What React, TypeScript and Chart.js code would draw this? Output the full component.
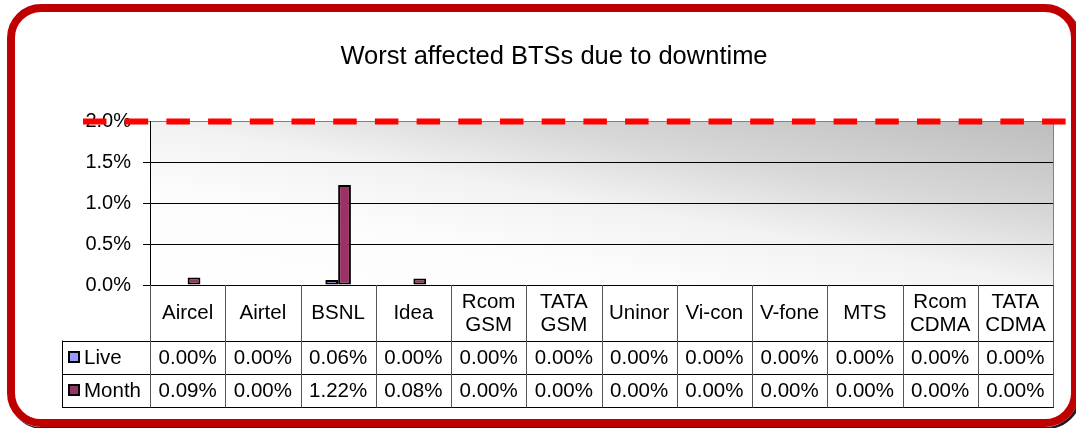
import React, { useEffect, useRef } from 'react';
import { Chart, registerables } from 'chart.js';

Chart.register(...registerables);

// ---- data ----
const TITLE = 'Worst affected BTSs due to downtime';
const categories: string[][] = [
  ['Aircel'], ['Airtel'], ['BSNL'], ['Idea'], ['Rcom', 'GSM'], ['TATA', 'GSM'],
  ['Uninor'], ['Vi-con'], ['V-fone'], ['MTS'], ['Rcom', 'CDMA'], ['TATA', 'CDMA'],
];
const seriesNames = ['Live', 'Month'];
const liveValues = [0, 0, 0.06, 0, 0, 0, 0, 0, 0, 0, 0, 0];
const monthValues = [0.09, 0, 1.22, 0.08, 0, 0, 0, 0, 0, 0, 0, 0];
const yMin = 0;
const yMax = 2.0;
const yStep = 0.5;
const thresholdValue = 2.0;

const seriesColors = ['#9999FF', '#993366'];
const FONT = "'Liberation Sans', Arial, sans-serif";

const W = 1076;
const H = 428;

export default function App() {
  const ref = useRef<HTMLCanvasElement | null>(null);

  useEffect(() => {
    if (!ref.current) return;
    const seriesValues = [liveValues, monthValues];

    const decorPlugin = {
      id: 'decor',
      beforeDraw(chart: any) {
        const ctx = chart.ctx as CanvasRenderingContext2D;
        const { left, right, top, bottom } = chart.chartArea;
        ctx.save();
        ctx.fillStyle = '#ffffff';
        ctx.fillRect(0, 0, W, H);
        ctx.restore();

        // frame shadow, only outside the frame
        ctx.save();
        ctx.beginPath();
        ctx.rect(0, 0, W, H);
        (ctx as any).roundRect(7, 4, 1072, 423, 34);
        ctx.clip('evenodd');
        ctx.strokeStyle = 'rgba(20,0,0,0.9)';
        ctx.lineWidth = 8;
        ctx.beginPath();
        (ctx as any).roundRect(13, 10, 1064, 415, 30);
        ctx.stroke();
        ctx.restore();

        // frame
        ctx.save();
        ctx.strokeStyle = '#C00000';
        ctx.lineWidth = 8;
        ctx.beginPath();
        (ctx as any).roundRect(11, 8, 1064, 415, 30);
        ctx.stroke();
        ctx.restore();

        // plot background gradient (diagonal in normalized box)
        const w = right - left;
        const h = bottom - top;
        const c = (2 * w * h) / (w * w + h * h);
        const g = ctx.createLinearGradient(left, bottom, left + c * h, bottom - c * w);
        g.addColorStop(0, '#ffffff');
        g.addColorStop(0.3, '#fcfcfc');
        g.addColorStop(0.5, '#f2f2f2');
        g.addColorStop(0.7, '#d8d8d8');
        g.addColorStop(1, '#bdbdbd');
        ctx.save();
        ctx.fillStyle = g;
        ctx.fillRect(left, top, w, h);
        ctx.restore();
      },
      afterDraw(chart: any) {
        const ctx = chart.ctx as CanvasRenderingContext2D;
        const { left, right, top, bottom } = chart.chartArea;
        const xs = chart.scales.x;
        const ys = chart.scales.y;
        const n = categories.length;
        const colW = (right - left) / n;

        // title
        ctx.save();
        ctx.fillStyle = '#000';
        ctx.font = `25.5px ${FONT}`;
        ctx.textAlign = 'center';
        ctx.textBaseline = 'middle';
        ctx.fillText(TITLE, 554, 57);
        ctx.restore();

        // plot right border
        ctx.save();
        ctx.strokeStyle = '#808080';
        ctx.lineWidth = 1;
        ctx.beginPath();
        ctx.moveTo(Math.round(right) + 0.5, top);
        ctx.lineTo(Math.round(right) + 0.5, bottom);
        ctx.stroke();
        ctx.restore();

        // data table
        const headerBottom = 340.5;
        const rowH = 33;
        const tableBottom = headerBottom + rowH * seriesNames.length;
        const tableLeft = 62;
        ctx.save();
        ctx.strokeStyle = '#000';
        ctx.lineWidth = 1;
        for (let r = 0; r <= seriesNames.length; r++) {
          const y = Math.round(headerBottom + r * rowH) + 0.5;
          ctx.beginPath();
          ctx.moveTo(tableLeft, y);
          ctx.lineTo(right + 1, y);
          ctx.stroke();
        }
        ctx.beginPath();
        ctx.moveTo(tableLeft + 0.5, headerBottom);
        ctx.lineTo(tableLeft + 0.5, tableBottom + 0.5);
        ctx.stroke();
        ctx.strokeStyle = '#555';
        for (let i = 0; i <= n; i++) {
          const x = Math.round(left + i * colW) + 0.5;
          ctx.beginPath();
          ctx.moveTo(x, bottom);
          ctx.lineTo(x, tableBottom + 1);
          ctx.stroke();
        }
        ctx.restore();

        // header labels
        ctx.save();
        ctx.fillStyle = '#000';
        ctx.font = `20.5px ${FONT}`;
        ctx.textAlign = 'center';
        ctx.textBaseline = 'middle';
        const headerMid = (bottom + headerBottom) / 2 + 1;
        categories.forEach((lines, i) => {
          const cx = xs.getPixelForValue(i);
          const lh = 23;
          const startY = headerMid - ((lines.length - 1) * lh) / 2;
          lines.forEach((t, k) => ctx.fillText(t, cx, startY + k * lh));
        });
        seriesValues.forEach((vals, r) => {
          const cy = headerBottom + r * rowH + rowH / 2 + 1;
          vals.forEach((v, i) => {
            const cx = xs.getPixelForValue(i);
            ctx.fillText(v.toFixed(2) + '%', cx, cy);
          });
        });
        // legend keys
        ctx.textAlign = 'left';
        seriesNames.forEach((name, r) => {
          const cy = headerBottom + r * rowH + rowH / 2;
          ctx.fillStyle = seriesColors[r];
          ctx.fillRect(69, cy - 5, 10, 10);
          ctx.strokeStyle = '#000';
          ctx.lineWidth = 2;
          ctx.strokeRect(69, cy - 5, 10, 10);
          ctx.fillStyle = '#000';
          ctx.fillText(name, 84, cy + 1);
        });
        ctx.restore();

        // threshold dashed line
        const ty = ys.getPixelForValue(thresholdValue) + 0.5;
        ctx.save();
        ctx.strokeStyle = '#FF0000';
        ctx.lineWidth = 6;
        ctx.setLineDash([23.5, 18.2]);
        ctx.beginPath();
        ctx.moveTo(83, ty);
        ctx.lineTo(W, ty);
        ctx.stroke();
        ctx.restore();
      },
    };

    const chart = new Chart(ref.current, {
      type: 'bar',
      data: {
        labels: categories.map((c) => c.join(' ')),
        datasets: seriesNames.map((name, i) => ({
          label: name,
          data: seriesValues[i],
          backgroundColor: seriesColors[i],
          borderColor: '#000',
          borderWidth: 2,
          borderSkipped: false as any,
          categoryPercentage: 0.34,
          barPercentage: 1.0,
        })),
      },
      options: {
        animation: false,
        responsive: false,
        maintainAspectRatio: false,
        devicePixelRatio: 1,
        layout: { padding: { top: 121, right: 23, bottom: 143, left: 0 } },
        plugins: {
          legend: { display: false },
          title: { display: false },
          tooltip: { enabled: false },
        },
        scales: {
          x: { display: false },
          y: {
            min: yMin,
            max: yMax,
            afterFit: (scale: any) => {
              scale.width = 150;
            },
            ticks: {
              stepSize: yStep,
              color: '#000',
              padding: 12,
              font: { family: FONT, size: 20 },
              callback: (v: any) => Number(v).toFixed(1) + '%',
            },
            grid: {
              color: (c: any) => (c.tick && c.tick.value === yMax ? '#808080' : '#000'),
              lineWidth: 1,
              tickLength: 7,
              drawTicks: true,
            },
            border: { display: true, color: '#000', width: 1 },
          },
        },
      },
      plugins: [decorPlugin],
    });

    return () => chart.destroy();
  }, []);

  return (
    <div style={{ position: 'absolute', left: 0, top: 0, width: W, height: H }}>
      <canvas ref={ref} width={W} height={H} style={{ width: W, height: H, display: 'block' }} />
    </div>
  );
}
